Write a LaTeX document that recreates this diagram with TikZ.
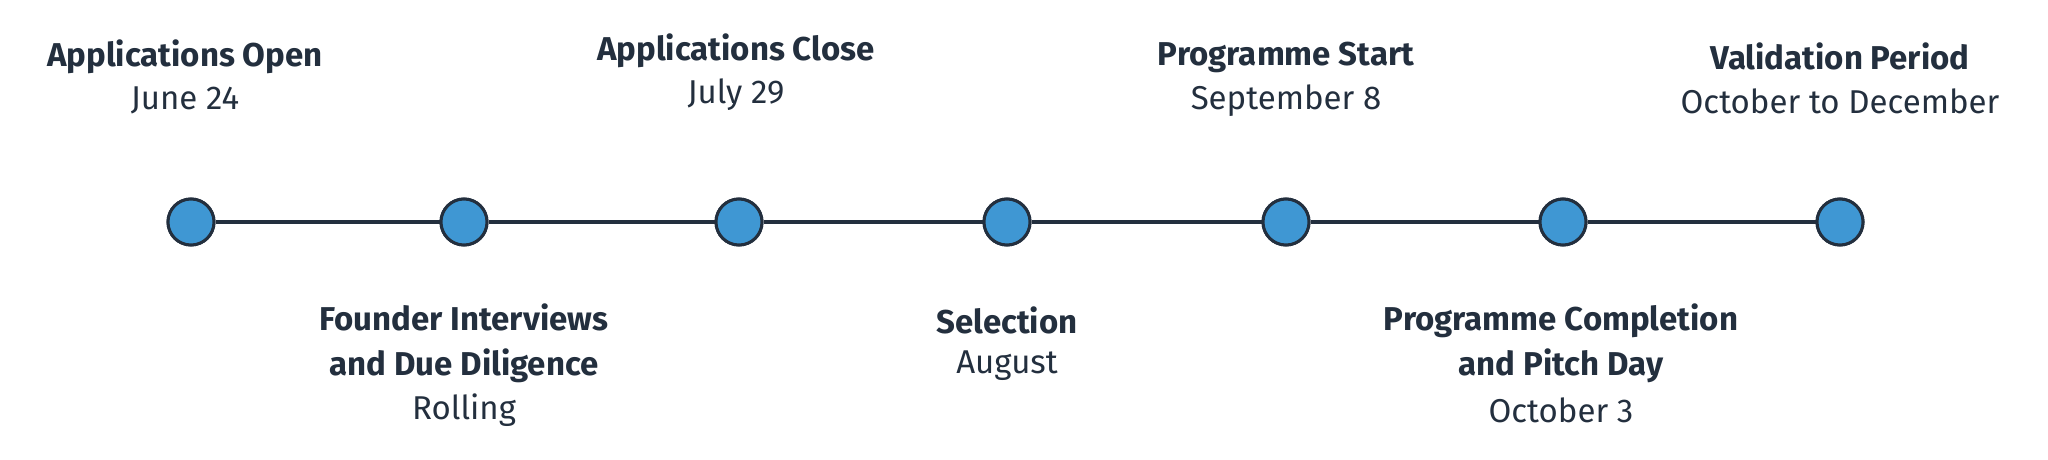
\documentclass[tikz,border=0pt]{standalone}
\usepackage{fontspec}
\setmainfont{Fira Sans}
\definecolor{ink}{HTML}{232F3E}
\definecolor{dot}{HTML}{3F97D3}
\begin{document}
\begin{tikzpicture}[x=1pt,y=1pt,
  dotnode/.style={circle,draw=ink,line width=3pt,fill=dot,minimum size=46pt,inner sep=0pt},
  ttl/.style={font=\fontsize{33}{45}\selectfont\bfseries,text=ink,align=center,inner sep=0pt},
  sub/.style={font=\fontsize{33}{45}\selectfont,text=ink,align=center,inner sep=0pt}]
\useasboundingbox (0,0) rectangle (2048,459);
\foreach \i/\x in {1/191,2/464,3/739,4/1007,5/1286,6/1563,7/1840}
  \node[dotnode] (d\i) at (\x,237) {};
\foreach \i [evaluate=\i as \j using int(\i+1)] in {1,...,6}
  \draw[ink,line width=4pt] (d\i) -- (d\j);
\foreach \i in {1,...,7} \node[dotnode] at (d\i) {};
\node[ttl] (t1) at (185,402) {Applications Open};
\node[sub] (s1) at (185,359) {June 24};
\node[ttl] (t3) at (736,408) {Applications Close};
\node[sub] (s3) at (736,364) {July 29};
\node[ttl] (t5) at (1286,402) {Programme Start};
\node[sub] (s5) at (1286,358) {September 8};
\node[ttl] (t7) at (1840,403) {Validation Period};
\node[sub] (s7) at (1840,358) {October to December};
\node[ttl] (t2) at (464,116) {Founder Interviews\\and Due Diligence};
\node[sub] (s2) at (464,49) {Rolling};
\node[ttl] (t4) at (1007,139) {Selection};
\node[sub] (s4) at (1007,93) {August};
\node[ttl] (t6) at (1561,116) {Programme Completion\\and Pitch Day};
\node[sub] (s6) at (1561,49) {October 3};
\end{tikzpicture}
\end{document}
